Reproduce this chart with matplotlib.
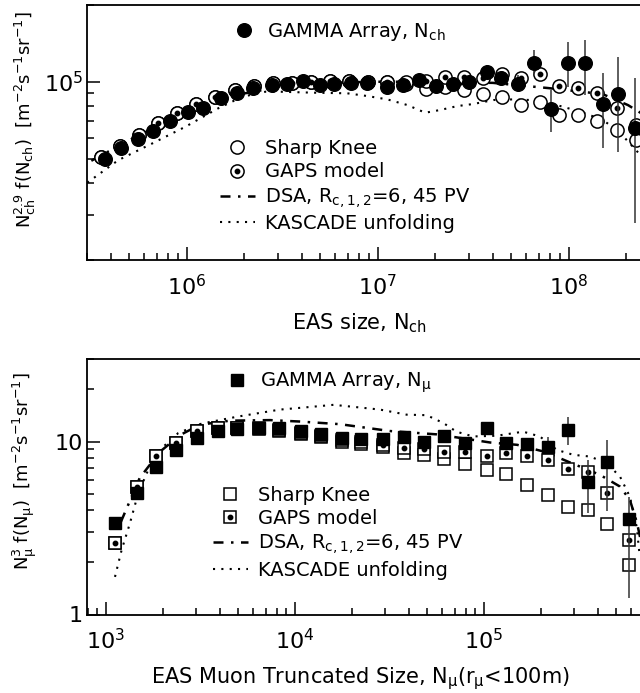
import matplotlib
matplotlib.use('Agg')
import matplotlib.pyplot as plt
from matplotlib import ticker

plt.rcParams['font.family'] = ['DejaVu Sans']
plt.rcParams['mathtext.default'] = 'regular'

# ---- top panel: charged particle size spectrum ----
nch_data = [3.74e5, 4.54e5, 5.57e5, 6.68e5, 8.2e5, 1.01e6, 1.22e6, 1.50e6, 1.84e6, 2.23e6, 2.80e6,
            3.36e6, 4.07e6, 5.0e6, 5.92e6, 7.27e6, 8.81e6, 1.11e7, 1.36e7, 1.65e7, 2.02e7, 2.48e7,
            3.01e7, 3.74e7, 4.43e7, 5.44e7, 6.6e7, 8.1e7, 9.94e7, 1.21e8, 1.50e8, 1.81e8, 2.23e8]
flux_ch_data = [4.97e4, 5.51e4, 5.96e4, 6.43e4, 7.03e4, 7.59e4, 7.87e4, 8.65e4, 9.01e4, 9.42e4, 9.71e4,
                9.79e4, 1.006e5, 9.75e4, 9.79e4, 9.88e4, 9.88e4, 9.58e4, 9.75e4, 1.02e5, 9.62e4, 9.84e4,
                1.0e5, 1.094e5, 1.03e5, 9.84e4, 1.18e5, 7.82e4, 1.187e5, 1.18e5, 8.18e4, 8.92e4, 6.57e4]
err_ch_lo = [0, 0, 0, 0, 0, 0, 0, 0, 0, 0, 0, 0, 0, 0, 0, 0, 0, 0, 0, 0, 0, 0, 0,
             6e3, 0, 5.7e3, 1.0e4, 1.45e4, 2.31e4, 2.93e4, 2.68e4, 3.62e4, 3.78e4]
err_ch_hi = [0, 0, 0, 0, 0, 0, 0, 0, 0, 0, 0, 0, 0, 0, 0, 0, 0, 0, 0, 0, 0, 0, 0,
             7e3, 0, 8e3, 1.5e4, 1.46e4, 2.48e4, 2.77e4, 2.62e4, 3.58e4, 3.73e4]

nch_model = [3.55e5, 4.47e5, 5.62e5, 7.08e5, 8.91e5, 1.12e6, 1.41e6, 1.78e6, 2.24e6, 2.82e6, 3.55e6,
             4.47e6, 5.62e6, 7.08e6, 8.91e6, 1.12e7, 1.41e7, 1.78e7, 2.24e7, 2.82e7, 3.55e7, 4.47e7,
             5.62e7, 7.08e7, 8.91e7, 1.12e8, 1.41e8, 1.78e8, 2.24e8]
sharp_ch = [5.09e4, 5.60e4, 6.21e4, 6.87e4, 7.52e4, 8.15e4, 8.73e4, 9.29e4, 9.62e4, 9.86e4, 9.91e4,
            1.0e5, 1.006e5, 1.006e5, 1.0e5, 9.97e4, 9.79e4, 9.40e4, 9.56e4, 9.28e4, 8.95e4, 8.73e4,
            8.10e4, 8.35e4, 7.40e4, 7.40e4, 7.01e4, 6.46e4, 5.91e4]
gaps_ch = [5.09e4, 5.60e4, 6.21e4, 6.87e4, 7.52e4, 8.15e4, 8.73e4, 9.29e4, 9.62e4, 9.86e4, 9.91e4,
           1.0e5, 1.006e5, 1.006e5, 1.0e5, 1.0e5, 1.0e5, 1.011e5, 1.048e5, 1.041e5, 1.031e5, 1.069e5,
           1.031e5, 1.069e5, 9.62e4, 9.42e4, 9.06e4, 7.86e4, 6.76e4]

dsa_ch_x = [3.16e5, 5.0e5, 7.9e5, 1.26e6, 2.0e6, 3.16e6, 5.0e6, 1.0e7, 2.0e7, 4.0e7, 7.76e7, 1.5e8, 2.04e8, 2.8e8]
dsa_ch_y = [4.9e4, 5.9e4, 7.0e4, 8.1e4, 9.0e4, 9.6e4, 9.9e4, 1.0e5, 1.0e5, 9.9e4, 9.45e4, 8.95e4, 8.1e4, 7.0e4]

kas_ch_x = [3.01e5, 4.38e5, 6.59e5, 9.82e5, 1.46e6, 1.95e6, 2.58e6, 3.09e6, 4.59e6, 6.92e6, 8.81e6, 1.12e7,
            1.43e7, 1.77e7, 2.12e7, 2.61e7, 3.16e7, 4.03e7, 5.13e7, 6.31e7, 9.02e7, 1.15e8, 1.51e8, 1.86e8, 2.37e8]
kas_ch_y = [4.02e4, 4.93e4, 5.73e4, 6.66e4, 7.87e4, 8.73e4, 9.14e4, 9.14e4, 9.06e4, 9.01e4, 8.79e4, 8.53e4,
            8.10e4, 7.56e4, 7.75e4, 8.03e4, 8.18e4, 8.48e4, 8.53e4, 8.48e4, 8.03e4, 7.63e4, 7.08e4, 6.29e4, 5.16e4]

# ---- bottom panel: muon truncated size spectrum ----
nmu_data = [1.116e3, 1.453e3, 1.832e3, 2.335e3, 3.03e3, 3.93e3, 4.96e3, 6.42e3, 8.23e3, 1.076e4, 1.366e4,
            1.773e4, 2.248e4, 2.91e4, 3.76e4, 4.83e4, 6.18e4, 7.93e4, 1.033e5, 1.307e5, 1.695e5, 2.173e5,
            2.79e5, 3.57e5, 4.49e5, 5.85e5]
flux_mu_data = [3.38, 5.05, 7.14, 8.89, 10.5, 11.5, 11.8, 12.0, 11.9, 11.5, 11.1, 10.5, 10.3, 10.3, 10.6,
                9.9, 10.7, 9.87, 12.0, 9.79, 9.62, 9.32, 11.7, 5.87, 7.63, 3.57]
err_mu_lo = [0, 0, 0, 0, 0, 0, 0, 0, 0, 0, 0, 0, 0, 0, 0, 0, 0, 0, 0, 0, 0, 0.7, 2.13, 2.0, 3.66, 2.33]
err_mu_hi = [0, 0, 0, 0, 0, 0, 0, 0, 0, 0, 0, 0, 0, 0, 0, 0, 0, 0, 0, 0, 0, 1.3, 2.25, 1.97, 2.57, 1.22]

sharp_mu = [2.59, 5.45, 8.21, 9.87, 11.5, 11.9, 11.9, 11.8, 11.5, 11.1, 10.6, 10.0, 9.70, 9.32, 8.64,
            8.38, 7.94, 7.38, 6.81, 6.46, 5.58, 4.88, 4.17, 4.04, 3.34, 1.92]
gaps_mu = [2.59, 5.45, 8.21, 9.87, 11.5, 11.9, 12.0, 12.0, 11.7, 11.2, 10.8, 10.2, 9.96, 9.57, 9.16,
           9.04, 8.75, 8.72, 8.23, 8.57, 8.27, 7.78, 6.93, 6.71, 5.05, 2.68]

dsa_mu_x = [1.2e3, 1.51e3, 1.93e3, 2.47e3, 3.14e3, 4.53e3, 7.38e3, 1.06e4, 1.73e4, 3.18e4, 5.64e4, 1.08e5,
            1.50e5, 2.10e5, 2.78e5, 4.11e5, 5.25e5, 5.92e5, 6.46e5, 7.11e5]
dsa_mu_y = [3.43, 6.16, 8.72, 10.9, 12.5, 13.2, 13.3, 13.05, 12.6, 11.5, 11.0, 9.87, 9.57, 8.72, 7.66,
            6.42, 5.49, 4.6, 3.38, 2.07]

kas_mu_x = [1.117e3, 1.211e3, 1.34e3, 1.483e3, 1.675e3, 1.93e3, 2.415e3, 3.21e3, 5.01e3, 8.34e3, 1.25e4,
            1.6e4, 2.12e4, 2.82e4, 3.9e4, 4.98e4, 6.1e4, 7.16e4, 8.77e4, 1.167e5, 1.614e5, 1.977e5,
            2.43e5, 2.97e5, 3.64e5, 4.46e5, 5.25e5, 5.92e5, 6.43e5, 6.68e5]
kas_mu_y = [1.65, 2.36, 3.37, 5.03, 6.86, 8.95, 11.2, 12.7, 13.95, 15.3, 15.9, 16.3, 15.8, 15.3, 14.3,
            14.2, 12.8, 11.4, 10.7, 10.8, 11.4, 10.7, 8.95, 8.38, 8.19, 7.5, 6.27, 4.8, 3.22, 2.16]

DSA_STYLE = (0, (4, 3, 1, 3))
KAS_STYLE = (0, (1, 3))
FS = 14


def style_axis(ax):
    ax.set_xscale('log')
    ax.set_yscale('log')
    for s in ax.spines.values():
        s.set_linewidth(1.3)
    ax.tick_params(which='both', direction='in', width=1.1, labelsize=16)
    ax.tick_params(which='major', length=9.5)
    ax.tick_params(which='minor', length=4.8)
    ax.tick_params(axis='x', pad=10)
    ax.tick_params(axis='y', pad=3)
    ax.yaxis.set_minor_formatter(ticker.NullFormatter())
    ax.xaxis.set_minor_formatter(ticker.NullFormatter())


fig = plt.figure(figsize=(6.4, 6.93), dpi=100)

# ================= top =================
ax1 = fig.add_axes([87 / 640, 1 - 260 / 693, 573 / 640, 255 / 693])
style_axis(ax1)

l_dsa1, = ax1.plot(dsa_ch_x, dsa_ch_y, color='black', lw=1.8, ls=DSA_STYLE, zorder=1)
l_kas1, = ax1.plot(kas_ch_x, kas_ch_y, color='black', lw=1.5, ls=KAS_STYLE, zorder=1)
h_sharp1, = ax1.plot(nch_model, sharp_ch, 'o', ms=9.5, mfc='white', mec='black', mew=1.1, zorder=2)
h_gaps1, = ax1.plot(nch_model, gaps_ch, 'o', ms=9.5, mfc='white', mec='black', mew=1.1, zorder=3)
h_dot1, = ax1.plot(nch_model, gaps_ch, 'o', ms=3.2, color='black', zorder=3)
ax1.errorbar(nch_data, flux_ch_data, yerr=[err_ch_lo, err_ch_hi], fmt='none',
             ecolor='0.2', elinewidth=1.1, capsize=0, zorder=4)
h_gam1, = ax1.plot(nch_data, flux_ch_data, 'o', ms=9.8, color='black', zorder=5)

ax1.set_xlim(3e5, 3e8)
ax1.set_ylim(2e4, 2e5)
ax1.set_xlabel('EAS size, N$_{ch}$', fontsize=FS + 1)
ax1.xaxis.set_label_coords(0.476, -0.2)
ax1.set_ylabel('N$_{ch}^{2.9}$ f(N$_{ch}$)  [m$^{-2}$s$^{-1}$sr$^{-1}$]', fontsize=13)
ax1.yaxis.set_label_coords(-0.085, 0.55)

leg = ax1.legend([h_gam1], ['GAMMA Array, N$_{ch}$'], loc='center left',
                 bbox_to_anchor=(0.2426, 0.895), frameon=False, fontsize=FS,
                 handlelength=1.8, handletextpad=0.3, borderpad=0, borderaxespad=0)
ax1.add_artist(leg)
ax1.legend([h_sharp1, (h_gaps1, h_dot1), l_dsa1, l_kas1],
           ['Sharp Knee', 'GAPS model', 'DSA, R$_{c,1,2}$=6, 45 PV', 'KASCADE unfolding'],
           loc='center left', bbox_to_anchor=(0.232, 0.29), frameon=False, fontsize=FS,
           handlelength=1.8, handletextpad=0.5, labelspacing=0.22, borderpad=0, borderaxespad=0)

# ================= bottom =================
ax2 = fig.add_axes([87 / 640, 1 - 614.5 / 693, 567 / 640, 255.5 / 693])
style_axis(ax2)

l_dsa2, = ax2.plot(dsa_mu_x, dsa_mu_y, color='black', lw=1.8, ls=DSA_STYLE, zorder=1)
l_kas2, = ax2.plot(kas_mu_x, kas_mu_y, color='black', lw=1.5, ls=KAS_STYLE, zorder=1)
h_sharp2, = ax2.plot(nmu_data, sharp_mu, 's', ms=8.5, mfc='white', mec='black', mew=1.1, zorder=2)
h_gaps2, = ax2.plot(nmu_data, gaps_mu, 's', ms=8.5, mfc='white', mec='black', mew=1.1, zorder=3)
h_dot2, = ax2.plot(nmu_data, gaps_mu, 'o', ms=3.2, color='black', zorder=3)
ax2.errorbar(nmu_data, flux_mu_data, yerr=[err_mu_lo, err_mu_hi], fmt='none',
             ecolor='0.2', elinewidth=1.1, capsize=0, zorder=4)
h_gam2, = ax2.plot(nmu_data, flux_mu_data, 's', ms=8.3, color='black', zorder=5)

ax2.set_xlim(10 ** 2.9, 10 ** 5.9)
ax2.set_ylim(1, 30)
ax2.yaxis.set_major_formatter(ticker.FuncFormatter(lambda v, p: f'{v:g}'))
ax2.set_xlabel('EAS Muon Truncated Size, N$_{\\mu}$(r$_{\\mu}$<100m)', fontsize=FS + 1)
ax2.xaxis.set_label_coords(0.483, -0.2)
ax2.set_ylabel('N$_{\\mu}^{3}$ f(N$_{\\mu}$)  [m$^{-2}$s$^{-1}$sr$^{-1}$]', fontsize=13)
ax2.yaxis.set_label_coords(-0.085, 0.56)

leg2 = ax2.legend([h_gam2], ['GAMMA Array, N$_{\\mu}$'], loc='center left',
                  bbox_to_anchor=(0.233, 0.907), frameon=False, fontsize=FS,
                  handlelength=1.8, handletextpad=0.3, borderpad=0, borderaxespad=0)
ax2.add_artist(leg2)
ax2.legend([h_sharp2, (h_gaps2, h_dot2), l_dsa2, l_kas2],
           ['Sharp Knee', 'GAPS model', 'DSA, R$_{c,1,2}$=6, 45 PV', 'KASCADE unfolding'],
           loc='center left', bbox_to_anchor=(0.222, 0.32), frameon=False, fontsize=FS,
           handlelength=1.8, handletextpad=0.5, labelspacing=0.22, borderpad=0, borderaxespad=0)

fig.savefig('out.png', dpi=100)
